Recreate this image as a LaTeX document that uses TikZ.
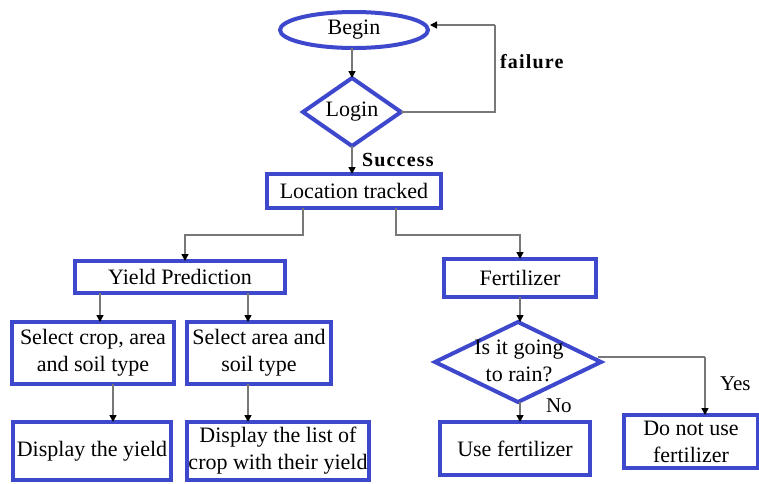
\documentclass[tikz,border=0pt]{standalone}
\usepackage{fontspec}
\setmainfont{Liberation Serif}
\newfontfamily\tms{Liberation Serif}
\newfontfamily\tmsw[LetterSpace=6]{Liberation Serif}
\usetikzlibrary{shapes.geometric,arrows.meta}
\definecolor{fblue}{RGB}{62,72,204}
\definecolor{lgray}{RGB}{120,120,120}
\begin{document}
\begin{tikzpicture}[x=1pt,y=-1pt,
  every node/.style={inner sep=0pt, outer sep=0pt, align=center, font=\tms\fontsize{22}{27}\selectfont},
  box/.style={draw=fblue, line width=4pt, rectangle},
  dia/.style={draw=fblue, line width=4pt, diamond},
  lbl/.style={font=\tmsw\fontsize{20}{22}\selectfont\bfseries},
  plain/.style={font=\tms\fontsize{21}{22}\selectfont},
  conn/.style={draw=lgray, line width=1.4pt, -{Triangle[length=7pt,width=7pt,fill=black,color=black]}},
  line/.style={draw=lgray, line width=1.4pt}]
\useasboundingbox (0,0) rectangle (759,483);
\node[draw=fblue, line width=4pt, ellipse, minimum width=148pt, minimum height=36pt] (begin) at (354,30) {Begin};
\node[dia, minimum width=98pt, minimum height=68pt] (login) at (352,112) {};
\node (logintxt) at (352,112) {Login};
\node[box, minimum width=174pt, minimum height=34pt] (loc) at (354,191) {Location tracked};
\node[box, minimum width=210pt, minimum height=32pt] (yield) at (180,277) {Yield Prediction};
\node[box, minimum width=152pt, minimum height=38pt] (fert) at (520,278) {Fertilizer};
\node[box, minimum width=162pt, minimum height=62pt] (selcrop) at (93,353) {Select crop, area\\and soil type};
\node[box, minimum width=144pt, minimum height=62pt] (selarea) at (259,353) {Select area and\\soil type};
\node[box, minimum width=158pt, minimum height=58pt] (dispyield) at (92,451) {Display the yield};
\node[box, minimum width=182pt, minimum height=58pt] (displist) at (278,451) {Display the list of\\crop with their yield};
\node[dia, minimum width=166pt, minimum height=80pt] (rain) at (518,362) {};
\node (raintxt) at (519,361) {Is it going\\to rain?};
\node[box, minimum width=150pt, minimum height=53pt] (usefert) at (515,448.5) {Use fertilizer};
\node[box, minimum width=134pt, minimum height=53pt] (donot) at (691,441.5) {Do not use\\fertilizer};
% labels
\node[lbl, anchor=west] (failure) at (500,62) {failure};
\node[lbl, anchor=west] (success) at (362,160) {Success};
\node[plain, anchor=west] (yes) at (720,384) {Yes};
\node[plain, anchor=west] (no) at (546,406) {No};
% connectors
\draw[conn] (begin.south -| login) -- (login.north);
\draw[conn] (login.south) -- (loc.north -| login);
\coordinate (fl1) at (495,112);
\coordinate (fl2) at (495,25);
\draw[line] (login.east) -- (fl1) -- (fl2);
\draw[conn] (fl2) -- (430,25);
\coordinate (ly1) at (303,208);
\coordinate (ly2) at (303,235);
\coordinate (ly3) at (185,235);
\draw[conn] (ly1) -- (ly2) -- (ly3) -- (yield.north -| ly3);
\coordinate (rf1) at (396,208);
\coordinate (rf2) at (396,235);
\coordinate (rf3) at (520,235);
\draw[conn] (rf1) -- (rf2) -- (rf3) -- (fert.north);
\draw[conn] (yield.south -| 100,0) -- (selcrop.north -| 100,0);
\draw[conn] (yield.south -| 248,0) -- (selarea.north -| 248,0);
\draw[conn] (selcrop.south -| 113,0) -- (dispyield.north -| 113,0);
\draw[conn] (selarea.south -| 248,0) -- (displist.north -| 248,0);
\draw[conn] (fert.south) -- (rain.north -| fert);
\coordinate (ry1) at (705,357);
\draw[line] (598,357) -- (ry1);
\draw[conn] (ry1) -- (donot.north -| ry1);
\draw[conn] (rain.south -| 520,0) -- (usefert.north -| 520,0);
\end{tikzpicture}
\end{document}
